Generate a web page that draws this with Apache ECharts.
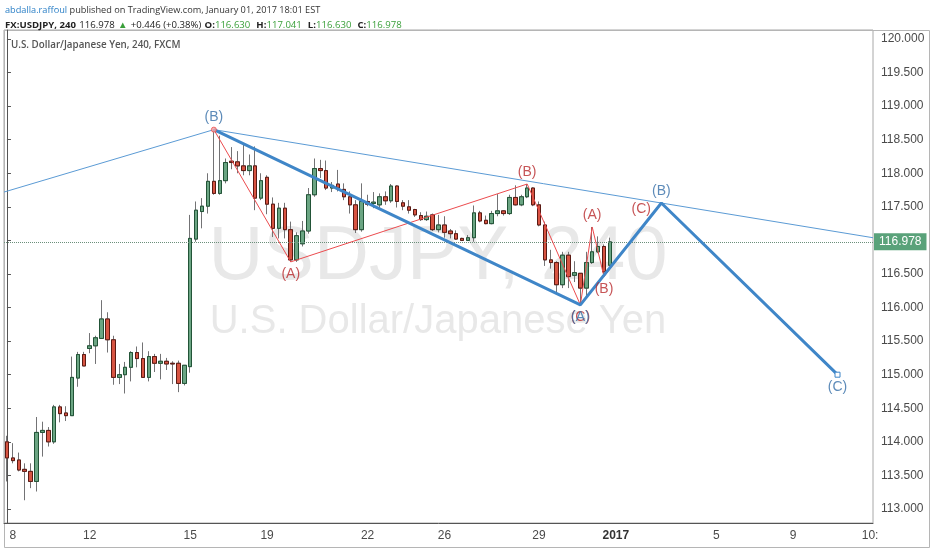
<!DOCTYPE html>
<html><head><meta charset="utf-8">
<script src="https://cdn.jsdelivr.net/npm/echarts@6/dist/echarts.min.js"></script>
<style>html,body{margin:0;padding:0;background:#fff}#c{width:932px;height:550px}</style>
</head><body><div id="c"></div>
<script>
// ---- data ----
const opens  = [114.00,113.76,113.73,113.59,113.56,113.41,114.14,114.17,114.00,114.52,114.43,114.39,114.95,115.30,115.39,115.43,115.54,115.83,115.52,114.96,115.00,115.11,115.33,115.24,114.96,115.27,115.17,115.20,115.17,115.17,114.87,115.12,117.02,117.43,117.51,117.88,117.70,117.89,118.18,118.17,118.11,118.04,118.11,117.63,117.94,117.54,117.18,117.48,117.16,116.71,116.95,117.14,117.68,118.07,118.04,117.78,117.84,117.76,117.65,117.53,117.16,117.58,117.55,117.53,117.65,117.59,117.81,117.56,117.50,117.46,117.37,117.31,117.38,117.16,117.23,117.14,117.10,117.03,117.00,117.04,117.41,117.30,117.25,117.40,117.44,117.40,117.64,117.53,117.65,117.78,117.53,117.23,116.71,116.67,116.34,116.78,116.48,116.51,116.29,116.67,116.83,116.91,116.630];
const closes = [113.76,113.72,113.58,113.56,113.41,114.14,114.17,114.00,114.52,114.42,114.39,114.96,115.30,115.13,115.43,115.55,115.83,115.52,114.96,115.00,115.11,115.33,115.24,114.96,115.27,115.17,115.20,115.16,115.16,114.87,115.14,117.03,117.45,117.51,117.88,117.70,117.89,118.16,118.16,118.11,118.04,118.11,117.63,117.89,117.54,117.18,117.48,117.16,116.71,117.07,117.14,117.68,118.07,118.04,117.78,117.82,117.78,117.65,117.53,117.16,117.58,117.54,117.57,117.65,117.59,117.81,117.58,117.51,117.45,117.38,117.31,117.36,117.16,117.23,117.12,117.10,117.02,117.00,117.04,117.41,117.29,117.25,117.40,117.44,117.40,117.64,117.53,117.65,117.78,117.53,117.23,116.71,116.67,116.34,116.78,116.46,116.52,116.29,116.67,116.83,116.91,116.532,116.978];
const lows   = [113.41,113.68,113.56,113.13,113.31,113.26,113.78,113.93,113.97,114.29,114.31,114.39,114.82,115.13,115.32,115.16,115.54,115.33,114.85,114.86,114.72,114.90,115.11,114.96,114.90,115.04,114.93,115.07,114.86,114.74,114.84,115.03,116.98,117.18,117.40,117.68,117.68,117.85,118.06,118.00,117.97,117.97,117.45,117.60,117.39,117.05,117.03,117.03,116.68,116.68,116.91,117.10,117.65,117.93,117.75,117.72,117.73,117.60,117.40,117.11,117.13,117.51,117.48,117.47,117.53,117.56,117.49,117.45,117.40,117.35,117.29,117.29,117.14,117.12,117.04,117.03,117.01,116.99,116.99,116.98,117.27,117.24,117.24,117.36,117.37,117.38,117.52,117.51,117.63,117.51,117.21,116.62,116.58,116.21,116.29,116.29,116.38,116.04,116.15,116.65,116.81,116.46,116.630];
const highs  = [114.09,113.98,113.84,113.68,113.68,114.37,114.30,114.22,114.55,114.55,114.53,115.27,115.34,115.34,115.62,115.58,116.11,115.93,115.58,115.16,115.19,115.35,115.42,115.48,115.35,115.31,115.31,115.25,115.20,115.21,115.14,117.38,117.58,117.63,118.00,118.65,118.56,118.22,118.39,118.33,118.44,118.28,118.40,118.00,117.97,117.64,117.56,117.56,117.28,117.12,117.29,117.78,118.22,118.20,118.19,117.87,118.05,117.85,117.73,117.60,117.85,117.68,117.72,117.70,117.73,117.84,117.82,117.60,117.60,117.47,117.42,117.43,117.40,117.38,117.36,117.17,117.15,117.04,117.08,117.52,117.44,117.37,117.44,117.69,117.45,117.68,117.82,117.68,117.84,117.79,117.58,117.28,116.86,116.69,116.83,116.83,116.69,116.51,116.83,117.20,117.06,116.94,117.041];
const lastPrice = 116.978;

const slotCount = 147;
const dayLabelIndex = [1, 14, 31, 44, 61, 74, 90, 103, 120, 133, 146];
const dayLabelText  = ['8', '12', '15', '19', '22', '26', '29', '2017', '5', '9', '10:'];
const priceTicks = [113,113.5,114,114.5,115,115.5,116,116.5,117,117.5,118,118.5,119,119.5,120];

// wave counts (bar index, price)
const trendX = [-0.5, 35, 146.5];
const trendY = [117.72, 118.65, 117.04];
const bigWaveX = [35, 97, 110.7, 140.5];
const bigWaveY = [118.65, 116.04, 117.557, 115.0];
const bigWaveLabels = ['(B)', '(A)', '(B)', '(C)'];
const subWaveX = [35, 48, 88, 97, 99, 101, 109.8];
const subWaveY = [118.65, 116.68, 117.84, 116.04, 117.20, 116.46, 117.47];
const subWaveLabels = ['', '(A)', '(B)', '(C)', '(A)', '(B)', '(C)'];

// ---- chart ----
const bigPos = ['top', 'bottom', 'top', 'bottom'];
const subPos = ['top', 'bottom', 'top', 'bottom', 'top', 'bottom', 'left'];
const categories = Array.from({length: slotCount}, (_, i) => {
  const k = dayLabelIndex.indexOf(i); return k >= 0 ? dayLabelText[k] : '';
});
const candles = opens.map((o, i) => [o, closes[i], lows[i], highs[i]]);
const bodies = opens.map((o, i) => [o, closes[i], Math.min(o, closes[i]), Math.max(o, closes[i])]);
const BLUE = '#3f86c8', RED = '#ec4b4e';
const labelFont = 'Liberation Sans';
const hf = 'Open Sans';
const hs = 9.6;

const chart = echarts.init(document.getElementById('c'), null, {renderer: 'canvas'});
chart.setOption({
  animation: false,
  backgroundColor: '#ffffff',
  grid: {left: 4, right: 59, top: 30, bottom: 27, show: true, borderColor: '#a8a8a8', borderWidth: 1},
  xAxis: [{
    type: 'category', data: categories, boundaryGap: true,
    axisLine: {lineStyle: {color: '#555'}},
    axisTick: {interval: (i) => dayLabelIndex.includes(i), alignWithLabel: true, length: 4, lineStyle: {color: '#555'}},
    axisLabel: {interval: (i) => dayLabelIndex.includes(i), color: '#4a4a4a', fontSize: 12, fontFamily: labelFont, margin: 7,
      formatter: v => v === '2017' ? '{b|2017}' : v, rich: {b: {fontWeight: 'bold', color: '#333', fontSize: 12, fontFamily: labelFont}}},
    splitLine: {show: false}
  }, {
    type: 'value', min: -0.5, max: slotCount - 0.5, show: false
  }],
  yAxis: [{
    type: 'value', position: 'right', min: 112.791, max: 120.134, scale: true,
    axisLine: {show: true, lineStyle: {color: '#555'}},
    axisTick: {show: true, customValues: priceTicks, length: 4, lineStyle: {color: '#555'}},
    axisLabel: {customValues: priceTicks, formatter: v => v.toFixed(3), color: '#4a4a4a', fontSize: 12, fontFamily: labelFont, margin: 8},
    splitLine: {show: false}
  }],
  graphic: [
    {type: 'text', z: 0, style: {x: 438, y: 258, text: 'USDJPY, 240', fontSize: 76, fontFamily: labelFont, fill: 'rgba(140,140,140,0.2)', align: 'center', verticalAlign: 'middle'}},
    {type: 'text', z: 0, style: {x: 438, y: 322, text: 'U.S. Dollar/Japanese Yen', fontSize: 40, fontFamily: labelFont, fill: 'rgba(140,140,140,0.2)', align: 'center', verticalAlign: 'middle'}},
    {type: 'rect', z: 0, shape: {x: 4.5, y: 30.5, width: 925, height: 517}, style: {fill: 'none', stroke: '#b5b5b5', lineWidth: 1}},
    {type: 'text', z: 10, style: {x: 11, y: 45, text: 'U.S. Dollar/Japanese Yen, 240, FXCM', fontSize: 9.8, fontWeight: 600, fontFamily: hf, fill: '#555', verticalAlign: 'middle'}},
    {type: 'text', z: 10, style: {x: 5, y: 10, verticalAlign: 'middle',
      text: '{u|abdalla.raffoul}{t| published on TradingView.com, January 01, 2017 18:01 EST}',
      rich: {u: {fill: '#2a7fc6', fontSize: 9.2, fontFamily: hf}, t: {fill: '#333', fontSize: 9.2, fontFamily: hf}}}},
    {type: 'text', z: 10, style: {x: 5, y: 25, verticalAlign: 'middle',
      text: '{b|FX:USDJPY, 240}{s| }{n|116.978}{s| }{g|▲}{s| }{n|+0.446 (+0.38%)}{s| }{b|O:}{g|116.630}{w| }{b|H:}{g|117.041}{w| }{b|L:}{g|116.630}{w| }{b|C:}{g|116.978}',
      rich: {b: {fill: '#222', fontWeight: 'bold', fontSize: hs, fontFamily: hf}, n: {fill: '#222', fontSize: hs, fontFamily: hf}, g: {fill: '#3a9f3a', fontSize: hs, fontFamily: hf},
             s: {fontSize: hs, width: 3.3}, w: {fontSize: hs, width: 6}}}}
  ],
  series: [
    {type: 'candlestick', name: 'wicks', data: candles, barWidth: 4, z: 2,
     itemStyle: {color: '#6ba583', color0: '#d75442', borderColor: '#737375', borderColor0: '#737375', borderWidth: 1},
     markLine: {silent: true, symbol: 'none', data: [{yAxis: lastPrice}],
       lineStyle: {type: 'dotted', color: '#6b8f7a', width: 1},
       label: {position: 'end', distance: 1, formatter: () => lastPrice.toFixed(3), color: '#fff', backgroundColor: '#5aa27a', padding: [3, 5, 2, 5], fontSize: 12, fontFamily: labelFont}}},
    {type: 'candlestick', name: 'bodies', data: bodies, barWidth: 4, z: 3,
     itemStyle: {color: '#6ba583', color0: '#d75442', borderColor: '#225437', borderColor0: '#5b1a13', borderWidth: 1}},
    {type: 'line', name: 'trend', xAxisIndex: 1, z: 5, symbol: 'none', data: trendX.map((x, i) => [x, trendY[i]]),
     lineStyle: {color: '#5b9bd5', width: 1}},
    {type: 'line', name: 'sub', xAxisIndex: 1, z: 6, symbol: 'none', data: subWaveX.map((x, i) => [x, subWaveY[i]]),
     lineStyle: {color: RED, width: 1}},
    {type: 'line', name: 'big', xAxisIndex: 1, z: 7, symbol: 'none',
     data: bigWaveX.map((x, i) => i === bigWaveX.length - 1 ? {value: [x, bigWaveY[i]], symbol: 'rect', symbolSize: 5} : [x, bigWaveY[i]]),
     itemStyle: {color: '#fff', borderColor: BLUE, borderWidth: 1},
     lineStyle: {color: BLUE, width: 3}},
    {type: 'scatter', name: 'peak', xAxisIndex: 1, z: 8, symbol: 'circle', symbolSize: 5,
     data: [[bigWaveX[0], bigWaveY[0]]], itemStyle: {color: '#f3a6a6', borderColor: RED, borderWidth: 1}},
    {type: 'scatter', name: 'subLabels', xAxisIndex: 1, z: 9, symbolSize: 0.1, itemStyle: {color: 'rgba(0,0,0,0)'},
     data: subWaveX.map((x, i) => ({value: [x, subWaveY[i]], label: {show: subWaveLabels[i] !== '', formatter: subWaveLabels[i], position: subPos[i], distance: 5, color: '#b8292c', fontSize: 14, fontFamily: labelFont}}))},
    {type: 'scatter', name: 'bigLabels', xAxisIndex: 1, z: 9, symbolSize: 0.1, itemStyle: {color: 'rgba(0,0,0,0)'},
     data: bigWaveX.map((x, i) => ({value: [x, bigWaveY[i]], label: {show: true, formatter: bigWaveLabels[i], position: bigPos[i], distance: 5, color: '#346ea8', fontSize: 14, fontFamily: labelFont}}))}
  ]
});
</script></body></html>
